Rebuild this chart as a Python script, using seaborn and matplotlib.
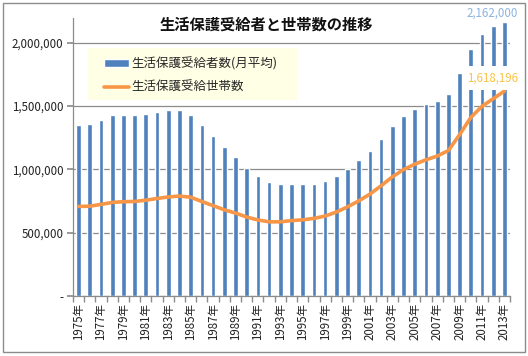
import numpy as np
import pandas as pd
import matplotlib
matplotlib.use("Agg")
import matplotlib.pyplot as plt
import seaborn as sns
from matplotlib.patches import Rectangle

years = list(range(1975, 2014))
recipients = [1349230, 1358316, 1393128, 1428261, 1430488, 1426984, 1439226, 1457383,
              1468245, 1469457, 1431117, 1348163, 1266126, 1176258, 1099520, 1014842,
              946374, 898499, 883112, 884912, 882229, 887450, 905589, 946994, 1004472,
              1072241, 1148088, 1242723, 1344327, 1423388, 1475838, 1513892, 1543321,
              1592620, 1763572, 1952063, 2067244, 2135708, 2162000]
households = [707514, 709613, 723587, 739244, 744841, 746997, 756726, 770388, 782265,
              789602, 780507, 746355, 713825, 681018, 654915, 623755, 600697, 585972,
              586106, 595407, 601925, 613106, 631488, 663060, 704055, 751303, 805169,
              870931, 941270, 998887, 1041508, 1075820, 1105275, 1148766, 1274231,
              1410049, 1498375, 1558510, 1618196]
year_labels = [f"{y}年" for y in years]
title = "生活保護受給者と世帯数の推移"
bar_name = "生活保護受給者数(月平均)"
line_name = "生活保護受給世帯数"
yticks = [0, 500000, 1000000, 1500000, 2000000]
ytick_labels = ["-", "500,000", "1,000,000", "1,500,000", "2,000,000"]

sns.set_theme(style="white")
plt.rcParams['font.family'] = ['Noto Sans CJK JP', 'DejaVu Sans']

W, H = 528, 356
ax_l, ax_r, ax_b, ax_t = 73, 510, 296, 17.5
fig = plt.figure(figsize=(W / 100, H / 100), dpi=100)
ax = fig.add_axes([ax_l / W, (H - ax_b) / H, (ax_r - ax_l) / W, (ax_b - ax_t) / H])
aw, ah = ax_r - ax_l, ax_b - ax_t

df = pd.DataFrame({"year": year_labels, "recipients": recipients, "households": households})
sns.barplot(data=df, x="year", y="recipients", color="#4F81BD", saturation=1,
            width=0.42, ax=ax, label=bar_name, zorder=2)
sns.lineplot(x=np.arange(len(years)), y=households, color="#F79646", linewidth=2.6,
             ax=ax, label=line_name, zorder=3, solid_joinstyle="round", solid_capstyle="round")

ax.set_xlim(-0.5, len(years) - 0.5)
ax.set_ylim(0, 2200000)
ax.set_yticks(yticks)
ax.set_yticklabels(ytick_labels, fontsize=8.3, color="#222222")
ax.yaxis.grid(True, color="#8c8c8c", linewidth=0.9)
ax.set_axisbelow(True)
ax.set_xticks(np.arange(0, len(years), 2))
ax.set_xticklabels(year_labels[::2], rotation=90, fontsize=8.3, color="#222222")
ax.set_xticks(np.arange(-0.5, len(years), 1), minor=True)
ax.tick_params(axis="x", which="major", length=0, pad=5)
ax.tick_params(axis="x", which="minor", length=4, color="#8c8c8c", direction="out", bottom=True)
ax.tick_params(axis="y", length=4, color="#8c8c8c", direction="out", left=True, pad=3)
ax.set_xlabel("")
ax.set_ylabel("")
for s in ["top", "right"]:
    ax.spines[s].set_visible(False)
for s in ["left", "bottom"]:
    ax.spines[s].set_color("#8c8c8c")
    ax.spines[s].set_linewidth(0.9)

# legend background box
ax.add_patch(Rectangle(((88 - ax_l) / aw, (ax_b - 100) / ah), 209 / aw, 52 / ah,
                       transform=ax.transAxes, facecolor="#FFFFE5", edgecolor="none",
                       zorder=4, clip_on=False))
handles, labels = ax.get_legend_handles_labels()
order = [labels.index(bar_name), labels.index(line_name)]
leg = ax.legend([handles[i] for i in order], [labels[i] for i in order],
                loc="center left", bbox_to_anchor=((104 - ax_l) / aw, (ax_b - 75.5) / ah),
                fontsize=9, frameon=False, handlelength=2.0, handletextpad=0.15,
                labelspacing=0.85, borderpad=0, borderaxespad=0)
leg.set_zorder(5)

ax.text((266 - ax_l) / aw, 1 - (25 - ax_t) / ah, title, transform=ax.transAxes,
        ha="center", va="center", fontsize=11, fontweight="bold", color="#111111")

ax.text(36.9, recipients[-1] + 20000, f"{recipients[-1]:,}", ha="center", va="bottom",
        fontsize=8.3, color="#8DB3E2", clip_on=False)
ax.text(36.95, households[-1] + 104000, f"{households[-1]:,}", ha="center", va="center",
        fontsize=8.3, color="#F9C24A", zorder=5,
        bbox=dict(boxstyle="square,pad=0.45", facecolor="white", edgecolor="none"))

fig.patches.append(Rectangle((3 / W, (H - 352) / H), (525 - 3) / W, (352 - 3) / H,
                             transform=fig.transFigure, fill=False, edgecolor="#8c8c8c", linewidth=1))
fig.savefig("out.png", dpi=100)
